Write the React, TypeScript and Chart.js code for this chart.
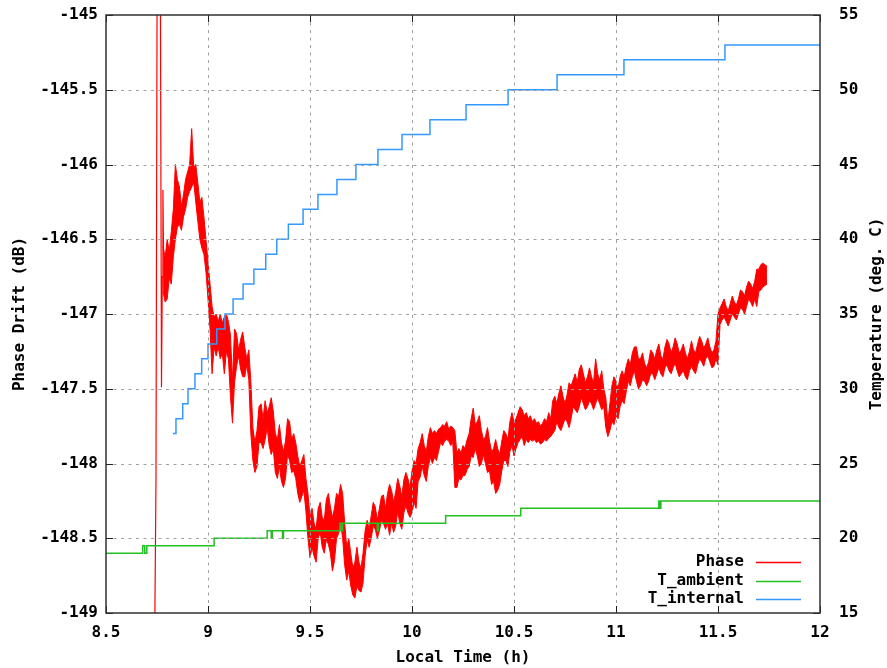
import { useEffect, useRef } from "react";
import { Chart, registerables } from "chart.js";

Chart.register(...registerables);

// ---------- axis ticks ----------
const xTicks = [8.5, 9, 9.5, 10, 10.5, 11, 11.5, 12];
const yLeftTicks = [-149, -148.5, -148, -147.5, -147, -146.5, -146, -145.5, -145];
const yRightTicks = [15, 20, 25, 30, 35, 40, 45, 50, 55];

// ---------- Phase (dB): initial spike trace ----------
const phaseSpikeTime = [8.738, 8.745, 8.751, 8.766, 8.772, 8.776, 8.779, 8.782];
const phaseSpikeValue = [-149.3, -148.1, -144.5, -144.5, -147.49, -146.75, -146.17, -146.6];

// ---------- Phase (dB): noisy trace, upper and lower envelope ----------
const phaseTime = [
  8.78, 8.79,
  8.8, 8.81, 8.82, 8.83, 8.84, 8.85, 8.86, 8.87, 8.88, 8.89,
  8.9, 8.91, 8.92, 8.93, 8.94, 8.95, 8.96, 8.97, 8.98, 8.99,
  9.0, 9.01, 9.02, 9.03, 9.04, 9.05, 9.06, 9.07, 9.08, 9.09,
  9.1, 9.11, 9.12, 9.13, 9.14, 9.15, 9.16, 9.17, 9.18, 9.19,
  9.2, 9.21, 9.22, 9.23, 9.24, 9.25, 9.26, 9.27, 9.28, 9.29,
  9.3, 9.31, 9.32, 9.33, 9.34, 9.35, 9.36, 9.37, 9.38, 9.39,
  9.4, 9.41, 9.42, 9.43, 9.44, 9.45, 9.46, 9.47, 9.48, 9.49,
  9.5, 9.51, 9.52, 9.53, 9.54, 9.55, 9.56, 9.57, 9.58, 9.59,
  9.6, 9.61, 9.62, 9.63, 9.64, 9.65, 9.66, 9.67, 9.68, 9.69,
  9.7, 9.71, 9.72, 9.73, 9.74, 9.75, 9.76, 9.77, 9.78, 9.79,
  9.8, 9.81, 9.82, 9.83, 9.84, 9.85, 9.86, 9.87, 9.88, 9.89,
  9.9, 9.91, 9.92, 9.93, 9.94, 9.95, 9.96, 9.97, 9.98, 9.99,
  10.0, 10.01, 10.02, 10.03, 10.04, 10.05, 10.06, 10.07, 10.08, 10.09,
  10.1, 10.11, 10.12, 10.13, 10.14, 10.15, 10.16, 10.17, 10.18, 10.19,
  10.2, 10.21, 10.22, 10.23, 10.24, 10.25, 10.26, 10.27, 10.28, 10.29,
  10.3, 10.31, 10.32, 10.33, 10.34, 10.35, 10.36, 10.37, 10.38, 10.39,
  10.4, 10.41, 10.42, 10.43, 10.44, 10.45, 10.46, 10.47, 10.48, 10.49,
  10.5, 10.51, 10.52, 10.53, 10.54, 10.55, 10.56, 10.57, 10.58, 10.59,
  10.6, 10.61, 10.62, 10.63, 10.64, 10.65, 10.66, 10.67, 10.68, 10.69,
  10.7, 10.71, 10.72, 10.73, 10.74, 10.75, 10.76, 10.77, 10.78, 10.79,
  10.8, 10.81, 10.82, 10.83, 10.84, 10.85, 10.86, 10.87, 10.88, 10.89,
  10.9, 10.91, 10.92, 10.93, 10.94, 10.95, 10.96, 10.97, 10.98, 10.99,
  11.0, 11.01, 11.02, 11.03, 11.04, 11.05, 11.06, 11.07, 11.08, 11.09,
  11.1, 11.11, 11.12, 11.13, 11.14, 11.15, 11.16, 11.17, 11.18, 11.19,
  11.2, 11.21, 11.22, 11.23, 11.24, 11.25, 11.26, 11.27, 11.28, 11.29,
  11.3, 11.31, 11.32, 11.33, 11.34, 11.35, 11.36, 11.37, 11.38, 11.39,
  11.4, 11.41, 11.42, 11.43, 11.44, 11.45, 11.46, 11.47, 11.48, 11.49,
  11.5, 11.51, 11.52, 11.53, 11.54, 11.55, 11.56, 11.57, 11.58, 11.59,
  11.6, 11.61, 11.62, 11.63, 11.64, 11.65, 11.66, 11.67, 11.68, 11.69,
  11.7, 11.71, 11.72, 11.73, 11.74,
];
const phaseHigh = [
  -146.55, -146.62,
  -146.50, -146.58, -146.45, -146.30, -146.00, -146.10, -146.15, -146.28, -146.20, -146.10,
  -146.05, -146.00, -145.76, -146.02, -146.00, -146.12, -146.25, -146.22, -146.35, -146.50,
  -146.65, -146.80, -146.95, -147.02, -147.00, -147.05, -147.00, -147.06, -147.02, -147.00,
  -147.05, -147.14, -147.45, -147.10, -147.13, -147.24, -147.17, -147.12, -147.22, -147.30,
  -147.24, -147.45, -147.76, -147.86, -147.78, -147.62, -147.60, -147.70, -147.58, -147.66,
  -147.62, -147.56, -147.65, -147.80, -147.84, -147.74, -147.86, -147.92, -147.85, -147.70,
  -147.72, -147.84, -147.80, -147.86, -147.95, -148.02, -147.98, -147.94, -148.10, -148.20,
  -148.36, -148.30, -148.40, -148.44, -148.30, -148.26, -148.36, -148.38, -148.24, -148.20,
  -148.29, -148.36, -148.30, -148.20, -148.22, -148.14, -148.20, -148.40, -148.56, -148.50,
  -148.60, -148.70, -148.66, -148.56, -148.66, -148.70, -148.60, -148.45, -148.38, -148.44,
  -148.35, -148.26, -148.29, -148.38, -148.30, -148.22, -148.21, -148.30, -148.20, -148.14,
  -148.18, -148.26, -148.19, -148.10, -148.15, -148.22, -148.11, -148.06, -148.10, -148.16,
  -148.05, -147.98, -148.00, -147.90, -147.86, -147.80, -147.88, -147.92, -147.82, -147.76,
  -147.80, -147.78, -147.80, -147.77, -147.76, -147.74, -147.75, -147.72, -147.77, -147.75,
  -147.76, -147.78, -147.93, -147.90, -147.93, -147.88, -147.90, -147.84, -147.80, -147.70,
  -147.63, -147.74, -147.72, -147.68, -147.78, -147.84, -147.82, -147.76, -147.85, -147.92,
  -147.90, -147.84, -147.90, -147.94, -147.85, -147.78, -147.80, -147.84, -147.72, -147.66,
  -147.72, -147.70, -147.66, -147.62, -147.64, -147.68, -147.66, -147.70, -147.68, -147.72,
  -147.70, -147.73, -147.72, -147.75, -147.73, -147.70, -147.72, -147.66, -147.70, -147.58,
  -147.55, -147.60, -147.53, -147.48, -147.55, -147.60, -147.54, -147.46, -147.48, -147.44,
  -147.40, -147.46, -147.37, -147.34, -147.40, -147.46, -147.42, -147.36, -147.42, -147.46,
  -147.30, -147.40, -147.44, -147.38, -147.50, -147.56, -147.72, -147.60, -147.48, -147.42,
  -147.45, -147.50, -147.42, -147.38, -147.42, -147.35, -147.30, -147.34, -147.26, -147.22,
  -147.22, -147.30, -147.30, -147.26, -147.33, -147.36, -147.32, -147.24, -147.26, -147.30,
  -147.24, -147.20, -147.28, -147.30, -147.22, -147.17, -147.20, -147.26, -147.22, -147.16,
  -147.20, -147.26, -147.24, -147.20, -147.26, -147.30, -147.25, -147.18, -147.24, -147.26,
  -147.20, -147.15, -147.18, -147.23, -147.20, -147.16, -147.22, -147.26, -147.24, -147.18,
  -147.00, -146.96, -146.93, -146.90, -146.95, -146.98, -146.93, -146.88, -146.92, -146.94,
  -146.90, -146.84, -146.85, -146.88, -146.82, -146.78, -146.80, -146.83, -146.78, -146.70,
  -146.70, -146.67, -146.66, -146.67, -146.68,
];
const phaseLow = [
  -146.85, -146.92,
  -146.90, -146.76, -146.80, -146.62, -146.50, -146.42, -146.40, -146.44, -146.35, -146.30,
  -146.22, -146.18, -146.15, -146.12, -146.25, -146.38, -146.50, -146.56, -146.60, -146.72,
  -146.90, -147.10, -147.40, -147.22, -147.28, -147.22, -147.30, -147.26, -147.40, -147.25,
  -147.30, -147.55, -147.73, -147.46, -147.35, -147.28, -147.37, -147.42, -147.42, -147.34,
  -147.44, -147.80, -147.98, -148.06, -148.02, -147.86, -147.86, -147.90, -147.84, -147.76,
  -147.88, -147.94, -147.90, -148.06, -148.10, -148.02, -148.12, -148.16, -148.10, -147.94,
  -147.98, -148.06, -148.05, -148.10, -148.20, -148.26, -148.22, -148.18, -148.32, -148.50,
  -148.63, -148.56, -148.62, -148.66, -148.50, -148.46, -148.56, -148.60, -148.51, -148.54,
  -148.60, -148.72, -148.65, -148.50, -148.47, -148.40, -148.50, -148.68, -148.78, -148.72,
  -148.82, -148.88, -148.90, -148.82, -148.85, -148.86, -148.80, -148.62, -148.51, -148.56,
  -148.50, -148.42, -148.44, -148.50, -148.45, -148.38, -148.40, -148.44, -148.40, -148.48,
  -148.40, -148.46, -148.42, -148.32, -148.40, -148.44, -148.33, -148.28, -148.33, -148.36,
  -148.33, -148.26, -148.30, -148.12, -148.09, -148.02, -148.08, -148.12, -148.02, -147.96,
  -148.00, -147.96, -147.98, -147.92, -147.86, -147.88, -147.85, -147.84, -147.85, -147.88,
  -147.86, -148.16, -148.16, -148.10, -148.11, -148.08, -148.08, -148.04, -148.02, -147.95,
  -147.96, -147.90, -147.95, -148.02, -148.00, -147.94, -148.00, -148.06, -148.05, -148.14,
  -148.12, -148.20, -148.18, -148.14, -148.05, -147.98, -147.98, -148.02, -147.92, -147.88,
  -147.95, -147.90, -147.86, -147.84, -147.82, -147.88, -147.84, -147.86, -147.84, -147.85,
  -147.84, -147.86, -147.85, -147.87, -147.86, -147.84, -147.85, -147.83, -147.82, -147.80,
  -147.78, -147.72, -147.76, -147.78, -147.74, -147.70, -147.72, -147.76, -147.70, -147.62,
  -147.64, -147.66, -147.62, -147.56, -147.60, -147.64, -147.62, -147.58, -147.60, -147.64,
  -147.60, -147.56, -147.60, -147.64, -147.62, -147.76, -147.82, -147.78, -147.72, -147.74,
  -147.68, -147.70, -147.62, -147.58, -147.60, -147.52, -147.45, -147.48, -147.42, -147.38,
  -147.45, -147.50, -147.48, -147.44, -147.45, -147.48, -147.45, -147.40, -147.40, -147.44,
  -147.40, -147.36, -147.40, -147.42, -147.36, -147.34, -147.38, -147.40, -147.36, -147.33,
  -147.38, -147.42, -147.40, -147.38, -147.42, -147.44, -147.38, -147.35, -147.38, -147.40,
  -147.34, -147.30, -147.32, -147.35, -147.30, -147.28, -147.32, -147.36, -147.35, -147.30,
  -147.34, -147.07, -147.04, -147.02, -147.05, -147.08, -147.04, -147.00, -147.02, -147.04,
  -147.00, -146.96, -146.97, -147.00, -146.95, -146.90, -146.92, -146.95, -146.90, -146.95,
  -146.85, -146.84, -146.82, -146.81, -146.80,
];

// ---------- T_ambient (deg C) ----------
const ambientTime = [8.5, 8.68, 8.69, 8.7, 9.03, 9.29, 9.31, 9.315, 9.365, 9.37, 9.647, 9.655, 9.66, 9.83, 9.835, 10.165, 10.533, 11.21, 11.215, 11.22, 12.0];
const ambientTemp = [19, 19.5, 19, 19.5, 20, 20.5, 20, 20.5, 20, 20.5, 21, 20.5, 21, 20.5, 21, 21.5, 22, 22.5, 22, 22.5, 22.5];

// ---------- T_internal (deg C) ----------
const internalTime = [8.828, 8.843, 8.876, 8.902, 8.936, 8.969, 9.0, 9.043, 9.083, 9.123, 9.172, 9.225, 9.283, 9.337, 9.394, 9.466, 9.539, 9.632, 9.725, 9.833, 9.951, 10.088, 10.265, 10.471, 10.711, 11.039, 11.534, 12.0];
const internalTemp = [27, 28, 29, 30, 31, 32, 33, 34, 35, 36, 37, 38, 39, 40, 41, 42, 43, 44, 45, 46, 47, 48, 49, 50, 51, 52, 53, 53];

const RED = "#ff0000";
const GREEN = "#22c022";
const BLUE = "#3399ff";
const FONT_FAMILY = "'DejaVu Sans Mono', monospace";
const FONT_SIZE = 16;
const FONT_CSS = `bold ${FONT_SIZE}px ${FONT_FAMILY}`;

const legendItems = [
  { label: "Phase", color: RED },
  { label: "T_ambient", color: GREEN },
  { label: "T_internal", color: BLUE },
];

const framePlugin = {
  id: "gnuplotFrame",
  afterDatasetsDraw(chart: any) {
    const { ctx, chartArea: a, scales } = chart;
    ctx.save();
    ctx.strokeStyle = "#a0a0a0";
    ctx.lineWidth = 1;
    ctx.setLineDash([3, 4.5]);
    xTicks.slice(1, -1).forEach((v) => {
      const x = Math.round(scales.x.getPixelForValue(v)) + 0.5;
      ctx.beginPath();
      ctx.moveTo(x, a.top);
      ctx.lineTo(x, a.bottom);
      ctx.stroke();
    });
    yLeftTicks.slice(1, -1).forEach((v) => {
      const y = Math.round(scales.y.getPixelForValue(v)) + 0.5;
      ctx.beginPath();
      ctx.moveTo(a.left, y);
      ctx.lineTo(a.right, y);
      ctx.stroke();
    });
    ctx.setLineDash([]);
    ctx.strokeStyle = "#202020";
    ctx.lineWidth = 1;
    const tl = 7;
    xTicks.forEach((v) => {
      const x = Math.round(scales.x.getPixelForValue(v)) + 0.5;
      ctx.beginPath();
      ctx.moveTo(x, a.bottom);
      ctx.lineTo(x, a.bottom - tl);
      ctx.moveTo(x, a.top);
      ctx.lineTo(x, a.top + tl);
      ctx.stroke();
    });
    yLeftTicks.forEach((v) => {
      const y = Math.round(scales.y.getPixelForValue(v)) + 0.5;
      ctx.beginPath();
      ctx.moveTo(a.left, y);
      ctx.lineTo(a.left + tl, y);
      ctx.stroke();
    });
    yRightTicks.forEach((v) => {
      const y = Math.round(scales.y2.getPixelForValue(v)) + 0.5;
      ctx.beginPath();
      ctx.moveTo(a.right, y);
      ctx.lineTo(a.right - tl, y);
      ctx.stroke();
    });
    ctx.strokeStyle = "#303030";
    ctx.lineWidth = 1.5;
    ctx.strokeRect(a.left, a.top, a.right - a.left, a.bottom - a.top);
    ctx.restore();
  },
  afterDraw(chart: any) {
    const { ctx, chartArea: a } = chart;
    ctx.save();
    ctx.font = FONT_CSS;
    ctx.fillStyle = "#000";
    ctx.textBaseline = "middle";
    ctx.textAlign = "center";
    ctx.fillText("Local Time (h)", (a.left + a.right) / 2, 658);
    const midY = (a.top + a.bottom) / 2;
    ctx.save();
    ctx.translate(20, midY);
    ctx.rotate(-Math.PI / 2);
    ctx.fillText("Phase Drift (dB)", 0, 0);
    ctx.restore();
    ctx.save();
    ctx.translate(877, midY);
    ctx.rotate(-Math.PI / 2);
    ctx.fillText("Temperature (deg. C)", 0, 0);
    ctx.restore();
    const rowY = [562, 580.5, 599];
    legendItems.forEach((item, i) => {
      const y = rowY[i];
      ctx.textAlign = "right";
      ctx.fillStyle = "#000";
      ctx.fillText(item.label, 744, y);
      ctx.strokeStyle = item.color;
      ctx.lineWidth = 1.5;
      ctx.beginPath();
      ctx.moveTo(756, Math.round(y) + 0.5);
      ctx.lineTo(801, Math.round(y) + 0.5);
      ctx.stroke();
    });
    ctx.restore();
  },
};

const tickFont = { family: FONT_FAMILY, size: FONT_SIZE, weight: "bold" as const };

function pts(xs: number[], ys: number[]) {
  return xs.map((x, i) => ({ x, y: ys[i] }));
}

function zeroPadding(s: any) {
  s.paddingTop = 0;
  s.paddingBottom = 0;
  s.paddingLeft = 0;
  s.paddingRight = 0;
}

export default function App() {
  const ref = useRef<HTMLCanvasElement | null>(null);

  useEffect(() => {
    document.body.style.margin = "0";
    if (!ref.current) return;
    const chart = new Chart(ref.current, {
      type: "line",
      data: {
        datasets: [
          {
            label: "T_internal",
            data: pts(internalTime, internalTemp),
            yAxisID: "y2",
            borderColor: BLUE,
            borderWidth: 1.5,
            pointRadius: 0,
            stepped: "before",
            fill: false,
            order: 0,
          },
          {
            label: "T_ambient",
            data: pts(ambientTime, ambientTemp),
            yAxisID: "y2",
            borderColor: GREEN,
            borderWidth: 1.5,
            pointRadius: 0,
            stepped: "before",
            fill: false,
            order: 1,
          },
          {
            label: "Phase",
            data: pts(phaseSpikeTime, phaseSpikeValue),
            yAxisID: "y",
            borderColor: RED,
            borderWidth: 1.2,
            pointRadius: 0,
            fill: false,
            order: 2,
          },
          {
            label: "Phase high",
            data: pts(phaseTime, phaseHigh),
            yAxisID: "y",
            borderColor: RED,
            borderWidth: 1,
            pointRadius: 0,
            fill: false,
            order: 3,
          },
          {
            label: "Phase low",
            data: pts(phaseTime, phaseLow),
            yAxisID: "y",
            borderColor: RED,
            backgroundColor: RED,
            borderWidth: 1,
            pointRadius: 0,
            fill: "-1",
            order: 3,
          },
        ] as any,
      },
      options: {
        animation: false,
        responsive: true,
        maintainAspectRatio: false,
        layout: { padding: { top: 15, left: 0, right: 0, bottom: 0 } },
        plugins: { legend: { display: false }, tooltip: { enabled: false } },
        scales: {
          x: {
            type: "linear",
            min: 8.5,
            max: 12,
            grid: { display: false, drawTicks: false },
            border: { display: false },
            ticks: { font: tickFont, color: "#000", padding: 10, maxRotation: 0, autoSkip: false, callback: (v: any) => String(v) },
            afterBuildTicks: (s: any) => { s.ticks = xTicks.map((v) => ({ value: v })); },
            afterFit: (s: any) => { s.height = 55; zeroPadding(s); },
          },
          y: {
            type: "linear",
            position: "left",
            min: -149,
            max: -145,
            grid: { display: false, drawTicks: false },
            border: { display: false },
            ticks: { font: tickFont, color: "#000", padding: 8, autoSkip: false, callback: (v: any) => String(v) },
            afterBuildTicks: (s: any) => { s.ticks = yLeftTicks.map((v) => ({ value: v })); },
            afterFit: (s: any) => { s.width = 106; zeroPadding(s); },
          },
          y2: {
            type: "linear",
            position: "right",
            min: 15,
            max: 55,
            grid: { display: false, drawTicks: false },
            border: { display: false },
            ticks: { font: tickFont, color: "#000", padding: 19, autoSkip: false, callback: (v: any) => String(v) },
            afterBuildTicks: (s: any) => { s.ticks = yRightTicks.map((v) => ({ value: v })); },
            afterFit: (s: any) => { s.width = 67; zeroPadding(s); },
          },
        },
      } as any,
      plugins: [framePlugin],
    });
    return () => chart.destroy();
  }, []);

  return (
    <div style={{ width: 887, height: 668, position: "relative", background: "#fff" }}>
      <canvas ref={ref} />
    </div>
  );
}
